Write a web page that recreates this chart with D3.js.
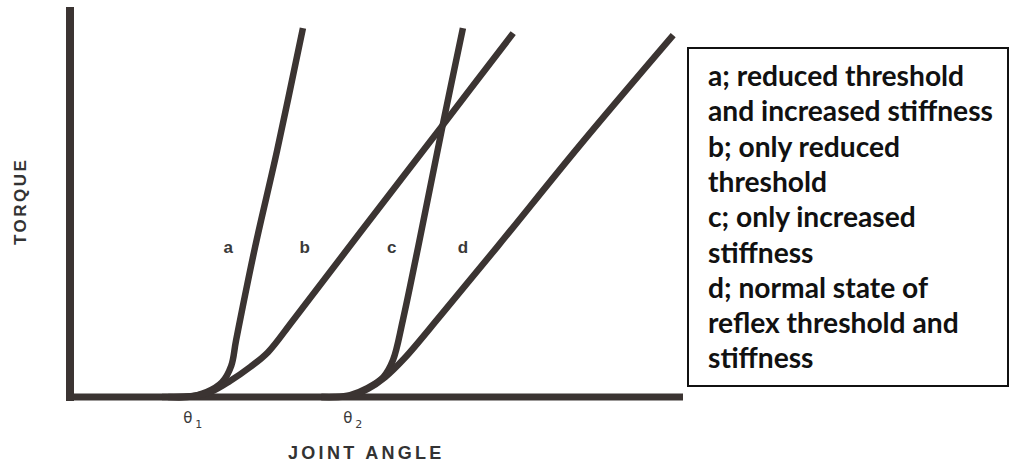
<!DOCTYPE html>
<html>
<head>
<meta charset="utf-8">
<script src="https://cdn.jsdelivr.net/npm/d3@7"></script>
<style>
  html, body { margin: 0; padding: 0; background: #fff; }
  svg { display: block; }
</style>
</head>
<body>
<svg id="chart" width="1013" height="462"></svg>
<script>
// ---- data (joint angle vs torque, arbitrary units 0..100) ----
const curveNames = ["a", "b", "c", "d"];
const angleA = [16, 19.1, 22.3, 24.8, 26.3, 27.1, 30.2, 33.8, 38.0];
const torqueA = [0, 0, 1.3, 3.8, 8.0, 14.6, 38.5, 63.3, 94.6];
const angleB = [15, 20.4, 23.2, 26.1, 29.4, 32.3, 36.4, 47.3, 60.8, 72.3];
const torqueB = [0, 0.3, 1.5, 4.1, 7.7, 11.5, 19.7, 42.1, 69.7, 93.3];
const angleC = [41, 43.2, 45.7, 48.5, 51.1, 52.7, 54.3, 56.8, 60.8, 64.1];
const torqueC = [0, 0, 0.5, 2.3, 5.1, 9.5, 19.7, 38.5, 69.7, 94.6];
const angleD = [41, 43.2, 45.7, 48.6, 51.4, 54.6, 60.4, 69.7, 83.2, 98.4];
const torqueD = [0, 0, 0.3, 2.1, 5.1, 10.0, 20.8, 38.5, 64.6, 92.8];
const labelAngles = [25.8, 38.3, 52.5, 64.1];
const labelTorque = 38.5;
const thetaLabels = ["1", "2"];
const thetaAngles = [19.6, 45.7];
const xTitle = "JOINT ANGLE";
const yTitle = "TORQUE";
const legendLines = [
  "a; reduced threshold",
  "and increased stiffness",
  "b; only reduced",
  "threshold",
  "c; only increased",
  "stiffness",
  "d; normal state of",
  "reflex threshold and",
  "stiffness"
];

// ---- layout ----
const svg = d3.select("#chart");
const ink = "#3b3432";
const x = d3.scaleLinear().domain([0, 100]).range([70, 683]);
const y = d3.scaleLinear().domain([0, 100]).range([397, 7]);

// axes (plain lines, no ticks)
svg.append("line")
  .attr("x1", x(0)).attr("x2", x(0))
  .attr("y1", y(0) + 4).attr("y2", y(100))
  .attr("stroke", ink).attr("stroke-width", 8);
svg.append("line")
  .attr("x1", x(0) - 4).attr("x2", x(100))
  .attr("y1", y(0)).attr("y2", y(0))
  .attr("stroke", ink).attr("stroke-width", 7);

const series = [
  { name: "a", xs: angleA, ys: torqueA },
  { name: "b", xs: angleB, ys: torqueB },
  { name: "c", xs: angleC, ys: torqueC },
  { name: "d", xs: angleD, ys: torqueD }
];

const line = d3.line()
  .x(d => x(d[0])).y(d => y(d[1]))
  .curve(d3.curveCatmullRom.alpha(0.5));

svg.selectAll("path.curve")
  .data(series)
  .join("path")
  .attr("class", "curve")
  .attr("d", s => line(s.xs.map((v, i) => [v, s.ys[i]])))
  .attr("fill", "none")
  .attr("stroke", ink)
  .attr("stroke-width", 6.5)
  .attr("stroke-linecap", "butt");

// curve letters
svg.selectAll("text.clabel")
  .data(curveNames)
  .join("text")
  .attr("class", "clabel")
  .attr("x", (d, i) => x(labelAngles[i]))
  .attr("y", y(labelTorque) + 6)
  .attr("text-anchor", "middle")
  .attr("font-family", "Liberation Sans, Arial, sans-serif")
  .attr("font-weight", "bold")
  .attr("font-size", 17)
  .attr("fill", "#3a3a3a")
  .text(d => d);

// theta labels
thetaLabels.forEach((t, i) => {
  const g = svg.append("text")
    .attr("x", x(thetaAngles[i]) - 7)
    .attr("y", 423)
    .attr("font-family", "DejaVu Sans, sans-serif")
    .attr("font-size", 15)
    .attr("fill", "#3a3a3a");
  g.append("tspan").text("\u03B8");
  g.append("tspan").attr("dx", 3).attr("dy", 5).attr("font-size", 11).text(t);
});

// axis titles
svg.append("text")
  .attr("x", 288).attr("y", 459)
  .attr("font-family", "Liberation Sans, Arial, sans-serif")
  .attr("font-weight", "bold")
  .attr("font-size", 18)
  .attr("letter-spacing", 3.3)
  .attr("fill", "#333")
  .text(xTitle);

svg.append("text")
  .attr("transform", "translate(26,245) rotate(-90)")
  .attr("font-family", "Liberation Sans, Arial, sans-serif")
  .attr("font-weight", "bold")
  .attr("font-size", 17)
  .attr("letter-spacing", 2.5)
  .attr("fill", "#333")
  .text(yTitle);

// legend box
svg.append("rect")
  .attr("x", 688).attr("y", 48)
  .attr("width", 320).attr("height", 338)
  .attr("fill", "#fff")
  .attr("stroke", "#111")
  .attr("stroke-width", 2);

const legend = svg.append("g");
legend.selectAll("text")
  .data(legendLines)
  .join("text")
  .attr("x", 708)
  .attr("y", (d, i) => 86 + i * 35.3)
  .attr("font-family", "Lato, 'Open Sans', sans-serif")
  .attr("font-weight", "bold")
  .attr("font-size", 22)
  .attr("fill", "#111")
  .text(d => d);

// scale font so the widest line matches the box width seen in the reference
const widest = legend.selectAll("text").nodes()[1].getComputedTextLength();
if (widest > 0) {
  const fs = 22 * 285 / widest;
  legend.selectAll("text").attr("font-size", fs);
}
</script>
</body>
</html>
